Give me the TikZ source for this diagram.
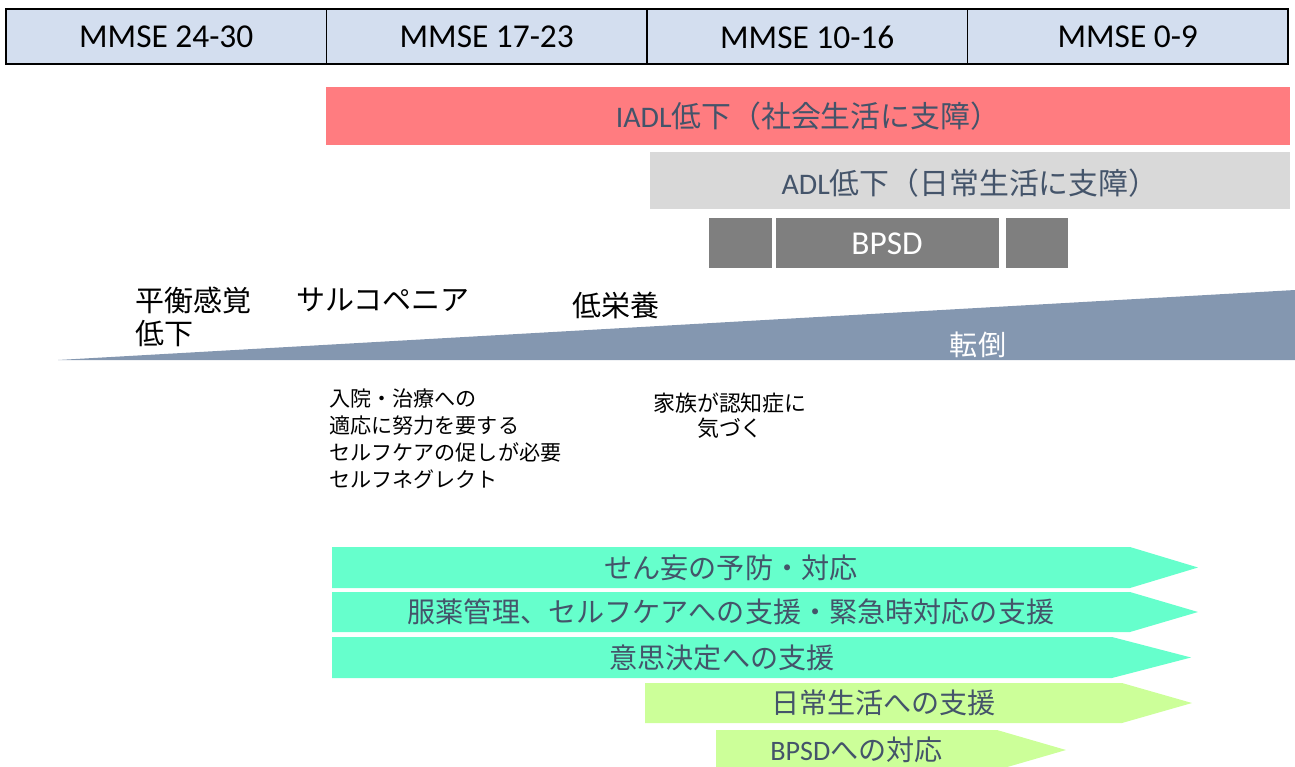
\documentclass[tikz,border=0pt]{standalone}
\usepackage{fontspec}
\setmainfont{Carlito}
\newfontfamily\jp{Noto Sans CJK JP}
\begin{document}
\begin{tikzpicture}[x=0.02cm,y=-0.02cm]
\useasboundingbox (0,0) rectangle (1295,767);
\definecolor{hdcolor}{HTML}{D3DEEF}
\definecolor{iadlcolor}{HTML}{FF7C80}
\definecolor{adlcolor}{HTML}{D9D9D9}
\definecolor{bpsdcolor}{HTML}{7F7F7F}
\definecolor{wedgecolor}{HTML}{8497B0}
\definecolor{txtcolor}{HTML}{44546A}
\definecolor{grcolor}{HTML}{66FFCC}
\definecolor{ygcolor}{HTML}{CCFF99}
\tikzset{
  barlabel/.style = {inner sep = 0, text = txtcolor, font = \fontsize{17}{20}\selectfont},
  carelabel/.style = {inner sep = 0, text = txtcolor, font = \jp\fontsize{16}{19}\selectfont},
  sidelabel/.style = {inner sep = 0, anchor = west, align = left, font = \jp\fontsize{16.5}{18.7}\selectfont},
  notelabel/.style = {inner sep = 0, font = \jp\fontsize{12}{15.5}\selectfont}
}
% MMSE header
\foreach \lab [count=\i from 0] in {24-30,17-23,10-16,0-9} {
  \draw [fill = hdcolor, draw = black, line width = 0.8pt] (6+\i*320.5,9) rectangle (6+\i*320.5+320.5,64);
  \node [inner sep = 0, font = \fontsize{19}{22}\selectfont] (mmse\i) at (6+\i*320.5+160.25,37) {MMSE \lab};
}
% decline bars
\fill [iadlcolor] (326,87) rectangle (1290,145);
\node [barlabel] (iadl) at (808,116) {IADL{\jp 低下（社会生活に支障）}};
\fill [adlcolor] (650,152) rectangle (1290,209);
\node [barlabel] (adl) at (970,183) {ADL{\jp 低下（日常生活に支障）}};
\foreach \xa/\xb in {709/772,776/999,1006/1068} \fill [bpsdcolor] (\xa,218) rectangle (\xb,268);
\node [inner sep = 0, text = white, font = \fontsize{19}{22}\selectfont] (bpsd) at (887,244) {BPSD};
% falls wedge
\fill [wedgecolor] (58,360) -- (1295,290) -- (1295,360) -- cycle;
\node [inner sep = 0, text = white, font = \jp\fontsize{16}{19}\selectfont] (tentou) at (978,345) {転倒};
\node [sidelabel] (heikou) at (135,317) {平衡感覚\\低下};
\node [sidelabel] (sarco) at (296,300) {サルコペニア};
\node [sidelabel] (teiei) at (572,305) {低栄養};
% notes
\node [notelabel, anchor = west, align = left] (nyuin) at (329,439) {入院・治療への\\適応に努力を要する\\セルフケアの促しが必要\\セルフネグレクト};
\node [notelabel, align = center, font = \jp\fontsize{12.5}{14.2}\selectfont] (kazoku) at (730,416) {家族が認知症に\\気づく};
% care arrows
\foreach \xa/\xt/\xe/\ya/\yb/\col/\lab [count=\i] in {
  332/1130/1198/547/588/grcolor/せん妄の予防・対応,
  332/1130/1198/592/632/grcolor/服薬管理、セルフケアへの支援・緊急時対応の支援,
  332/1112/1191/637/678/grcolor/意思決定への支援,
  645/1122/1192/683/723/ygcolor/日常生活への支援,
  716/997/1066/730/770/ygcolor/{\rmfamily BPSD}への対応} {
  \fill [\col] (\xa,\ya) -- (\xt,\ya) -- (\xe,{(\ya+\yb)/2}) -- (\xt,\yb) -- (\xa,\yb) -- cycle;
  \node [carelabel] (care\i) at ({(\xa+\xt)/2},{(\ya+\yb)/2}) {\lab};
}
\end{tikzpicture}
\end{document}
